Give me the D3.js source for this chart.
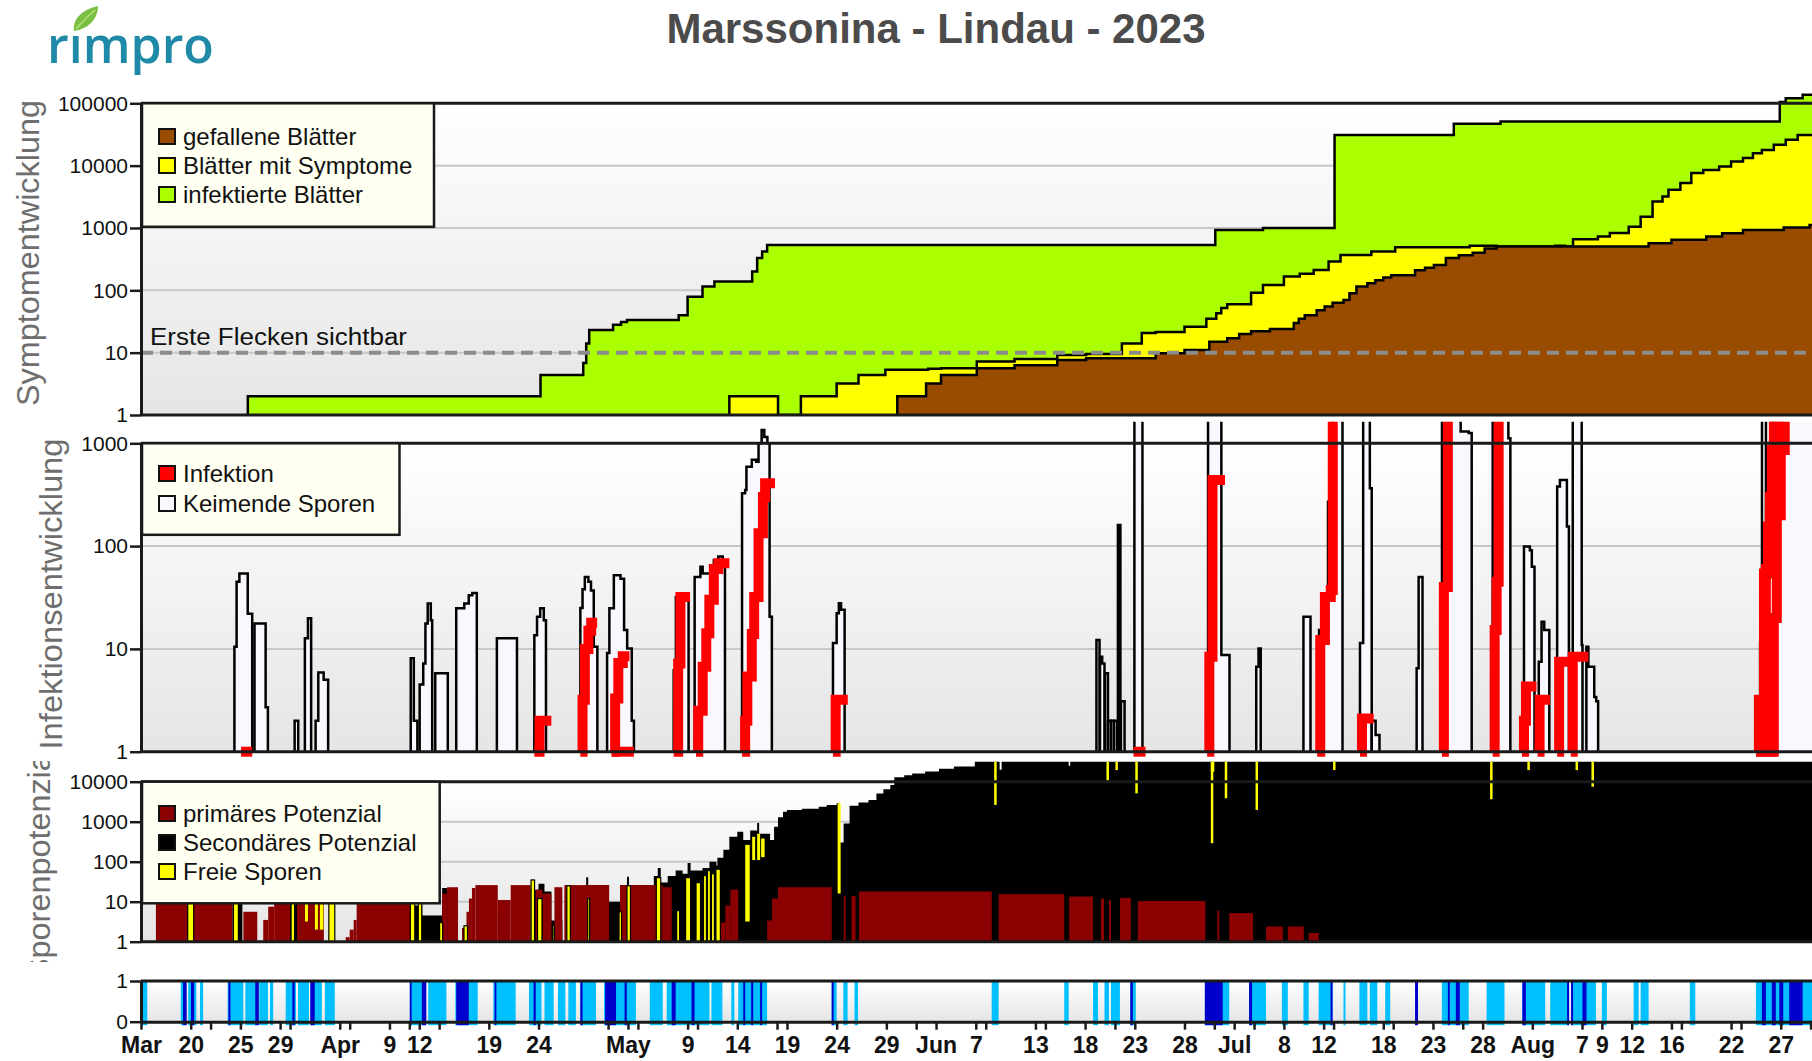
<!DOCTYPE html>
<html><head><meta charset="utf-8">
<script src="https://cdn.jsdelivr.net/npm/d3@7/dist/d3.min.js"></script>
<style>
html,body{margin:0;padding:0;background:#fff;}
svg{display:block;font-family:"Liberation Sans",Arial,Helvetica,sans-serif;}
</style></head><body>
<svg id="chart" width="1812" height="1061"></svg>
<script>
// ---------------- DATA (x = days after 15 March 2023) ----------------
const xTickDates = ["2023-03-15","2023-03-20","2023-03-25","2023-03-29","2023-04-04","2023-04-09","2023-04-12","2023-04-19","2023-04-24","2023-05-03","2023-05-09","2023-05-14","2023-05-19","2023-05-24","2023-05-29","2023-06-03","2023-06-07","2023-06-13","2023-06-18","2023-06-23","2023-06-28","2023-07-03","2023-07-08","2023-07-12","2023-07-18","2023-07-23","2023-07-28","2023-08-02","2023-08-07","2023-08-09","2023-08-12","2023-08-16","2023-08-22","2023-08-27"];
const xTickLabels = ["Mar","20","25","29","Apr","9","12","19","24","May","9","14","19","24","29","Jun","7","13","18","23","28","Jul","8","12","18","23","28","Aug","7","9","12","16","22","27"];
const xMinorTicks = ["2023-03-22","2023-03-30","2023-04-05","2023-04-11","2023-04-14","2023-05-01","2023-05-04","2023-05-10","2023-05-18","2023-06-01","2023-06-08","2023-06-14","2023-06-21","2023-07-01","2023-07-05","2023-07-13","2023-07-19","2023-07-26","2023-08-17","2023-08-23","2023-08-30"];

const symTicks = [1,10,100,1000,10000,100000];
const infTicks = [1,10,100,1000];
const spoTicks = [1,10,100,1000,10000];
const wetTicks = [0,1];

// Panel 1 : step series [day, leaves]
const infectedLeaves = [[10.75,2],[40.2,4.4],[44.5,6.8],[44.8,14],[45.1,23],[47.5,28],[48.3,31],[48.9,33.5],[54.1,40],[55.0,79],[56.5,115],[57.7,138],[61.5,200],[62.0,330],[62.5,420],[63.0,535],[108.1,930],[112.9,1000],[120.1,31000],[132.1,47000],[136.8,51000],[164.9,105000],[165.5,120000],[167.2,137000],[172,137000]];
const symptomLeaves = [[59.2,2],[64.1,1],[66.4,2],[70.0,3.2],[72.2,4.4],[74.9,5.3],[79.2,5.5],[80.5,5.6],[84.1,7.2],[87.9,7.9],[92.2,9.2],[95.1,9.5],[98.7,14],[100.7,20.7],[102.1,21.5],[105.0,26],[107.2,35],[108.2,43],[108.7,52],[109.3,60],[111.7,91],[112.9,122],[115.0,166],[116.6,185],[118.0,212],[119.5,290],[120.7,370],[123.8,418],[126.2,490],[133.7,518],[136.4,505],[142.3,520],[143.3,505],[144.1,660],[146.6,727],[147.8,830],[149.7,1050],[150.9,1520],[152.1,2660],[153.1,3200],[153.7,4100],[154.9,5250],[156.0,7600],[157.2,8500],[158.8,9700],[160.0,11700],[161.2,13200],[162.2,15800],[163.1,17900],[164.3,21600],[165.5,26000],[166.7,31000],[172,31000]];
const fallenLeaves = [[76.1,2],[79.0,3.2],[80.5,4.4],[84.1,5.6],[87.9,6.3],[92.2,7.6],[95.1,8.1],[102.1,9.8],[105.0,11],[107.5,15],[109.3,17],[110.5,20],[111.7,22],[113.6,24],[116.0,30],[116.5,35],[117.1,40],[118.3,48],[119.1,55],[119.9,63],[121.0,70],[121.6,90],[122.3,115],[123.4,130],[124.2,145],[125.0,160],[125.8,175],[128.2,210],[129.2,230],[130.1,255],[131.3,330],[132.6,365],[134.0,400],[135.2,470],[136.4,505],[151.7,570],[154.0,645],[157.5,730],[159.1,820],[161.2,930],[165.3,1020],[167.9,1120],[172,1120]];
const firstSpotsLevel = 10;

// Panel 2 : germinating spores events and infection lines [day, value]
const germinatingSpores = [
 [[9.40,10.5],[9.62,45],[9.9,54],[10.74,22],[11.19,1]],
 [[11.42,17.7],[12.54,2.7],[12.77,1]],
 [[15.46,2],[15.82,1]],
 [[16.49,12.7],[16.8,19.9],[17.12,1]],
 [[17.57,2],[17.84,5.9],[18.38,5],[18.83,1]],
 [[27.14,8.1],[27.45,2],[27.81,1]],
 [[28.04,4.5],[28.4,7.2],[28.62,17.7],[28.85,27.7],[29.16,19],[29.3,1]],
 [[29.61,5.8],[30.87,1]],
 [[31.72,24.8],[32.53,27.7],[32.98,33.3],[33.34,35],[33.79,1]],
 [[35.81,12.7],[37.83,1]],
 [[39.58,13.6],[39.85,20.6],[40.17,24.8],[40.53,19],[40.75,1]],
 [[44.21,25],[44.43,38],[44.66,50],[45.02,45],[45.28,37],[45.56,10.5],[45.92,1]],
 [[46.9,9.1],[47.13,24.8],[47.58,52],[48.25,48],[48.61,15.3],[48.92,10.1],[49.38,2],[49.6,1]],
 [[53.6,6.2],[53.82,32],[54.18,33.5],[55.1,1]],
 [[55.71,50],[56.29,63],[56.52,54],[57.64,73],[58.09,79],[58.54,73],[58.76,1]],
 [[60.48,326],[60.79,351],[60.92,590],[61.46,690],[61.9,660],[62.14,1000],[62.45,1350],[62.72,1150],[63.03,1000],[63.25,20.6],[63.48,1]],
 [[69.63,11.4],[70.0,22.2],[70.22,27.8],[70.44,24],[70.8,1]],
 [[96.14,12.2],[96.45,1]],
 [[96.5,8.4],[96.72,7.2],[96.95,1]],
 [[97.0,5.8],[97.3,1]],
 [[97.3,2],[97.6,1]],
 [[97.6,2],[97.9,1]],
 [[97.9,2],[98.2,1]],
 [[98.3,160],[98.55,1]],
 [[98.61,3.1],[98.97,1]],
 [[99.96,5000],[100.77,1]],
 [[107.37,5000],[108.71,8.7],[109.53,1]],
 [[112.22,6.7],[112.45,10.1],[112.67,1]],
 [[116.97,20.6],[117.68,1]],
 [[118.54,15.3],[119.44,270],[119.92,5000],[120.9,1]],
 [[122.66,11.4],[122.98,5000],[123.65,365],[123.84,1]],
 [[123.84,2],[124.23,1.45],[124.62,1]],
 [[128.36,6.5],[128.56,50],[128.95,1]],
 [[130.91,5000],[132.79,1300],[133.6,1260],[133.9,1]],
 [[136.01,5000],[137.59,1120],[137.79,1]],
 [[139.16,99],[139.75,91],[139.95,63],[140.22,1]],
 [[140.65,7.5],[140.93,18.4],[141.2,15.3],[141.71,1]],
 [[142.5,380],[142.78,440],[143.48,155],[143.68,1]],
 [[144.07,5000],[144.97,10.9],[145.05,1]],
 [[145.44,10.5],[145.64,6.7],[146.23,3.4],[146.43,3.1],[146.62,1]],
 [[162.92,11.4],[163.11,5000],[163.51,173],[163.9,155],[164.1,5000],[172,5000]]
];
const infection = [
 [[10.07,1],[11.19,1]],
 [[39.58,1],[40.1,2],[41.29,2]],
 [[44.21,1],[44.43,3.2],[44.66,10],[45.02,15],[45.3,18],[45.9,18]],
 [[47.36,1],[47.71,3.3],[48.03,7.3],[48.48,8.5],[49.15,8.5]],
 [[47.36,1],[49.6,1]],
 [[53.6,1],[53.95,1],[54.05,7.2],[54.28,32],[55.25,32]],
 [[55.85,1],[56.07,2.5],[56.52,6.7],[56.88,14.2],[57.19,30],[57.64,60],[58.09,68],[59.21,68]],
 [[60.48,1],[60.79,2],[61.01,5.4],[61.46,14],[61.7,32],[62.14,133],[62.58,300],[62.8,408],[63.8,408]],
 [[69.63,1],[69.9,3.2],[71.12,3.2]],
 [[99.87,1],[101.08,1]],
 [[107.28,1],[107.5,8.4],[107.82,440],[109.08,440]],
 [[118.35,1],[118.66,12.2],[119.13,32],[119.72,37.4],[119.92,5000],[120.7,5000]],
 [[122.66,1],[122.86,2.1],[124.04,2.1]],
 [[130.91,1],[131.1,40],[131.5,5000],[132.4,5000]],
 [[136.01,1],[136.21,15.3],[136.41,45],[136.61,5000],[137.4,5000]],
 [[138.96,1],[139.16,2],[139.36,4.3],[140.42,4.3]],
 [[140.53,1],[140.73,3.2],[141.79,3.2]],
 [[142.5,1],[142.7,7.5],[143.6,7.5]],
 [[143.87,1],[144.07,8.4],[145.64,8.4]],
 [[162.53,1],[162.8,3.2],[163.31,54],[163.71,155],[164.1,860],[164.69,5000],[165.6,5000]],
 [[162.53,1],[164.6,1]],
 [[163.3,1],[163.5,60],[163.9,300],[164.3,2000],[164.9,5000],[165.6,5000]],
 [[164.0,1],[164.3,20],[164.6,200],[165.0,860],[165.4,5000],[165.6,5000]]
];

// Panel 3 : spore potential
const secondaryPotential = [[0,1],[9.2,10],[10.2,1],[15.0,22],[16.1,24],[18.3,1],[27.1,8],[28.3,4.5],[30.3,22],[30.8,18],[31.9,1],[39.2,20],[40.0,28],[40.6,18],[41.3,3.4],[42.4,1],[44.7,26],[44.8,41],[45.0,26],[47.1,10],[48.2,26],[48.9,42],[49.1,26],[51.6,44],[52.0,70],[52.3,30],[53.0,44],[53.8,60],[54.5,50],[55.0,93],[55.3,60],[56.5,70],[57.2,100],[57.9,80],[58.0,126],[58.6,200],[59.2,420],[60.0,560],[60.6,350],[61.3,600],[62.0,930],[62.2,500],[63.3,350],[63.7,750],[64.1,1300],[64.6,1780],[65.0,1950],[66.5,2100],[68.2,2360],[69.0,2600],[70.0,2950],[70.2,300],[70.7,900],[71.3,2500],[72.2,3000],[73.2,3500],[74.0,5100],[74.7,6500],[75.4,8300],[75.8,13000],[76.8,14500],[77.6,16000],[78.9,18000],[80.3,21000],[81.8,24000],[83.9,40000],[86.4,20000],[86.6,40000],[93.35,25000],[93.5,40000],[172,40000]];
// [start, end, value]
const primaryPotential = [[1.5,9.2,25],[10.3,11.7,5.6],[12.3,12.8,3.5],[12.8,13.4,7.5],[13.4,15.0,20],[15.7,18.4,20],[20.6,21.0,1.3],[21.0,21.4,2],[21.4,21.7,3.5],[21.7,27.1,25],[30.3,30.8,16],[30.8,31.9,23],[32.3,32.7,2.2],[32.75,33.0,5.6],[33.0,33.3,12],[33.3,33.65,22],[33.65,35.9,26],[35.9,37.2,11],[37.2,39.2,26],[39.7,40.4,20],[40.4,41.3,16],[41.6,42.4,23],[42.6,47.1,26],[48.2,52.5,26],[52.5,53.4,23],[58.3,58.8,3],[58.8,59.3,8],[59.3,60.1,20],[63.0,63.5,3.4],[63.5,64.1,12],[64.1,69.5,23],[70.7,70.9,14],[71.5,71.9,14],[72.25,85.6,18],[86.3,92.9,15.5],[93.4,95.8,13.5],[96.6,96.9,12],[97.4,97.6,11],[98.5,99.6,12.5],[100.3,107.1,10.4],[108.3,108.5,6],[109.5,111.9,5.2],[113.2,114.9,2.4],[115.4,117.0,2.4],[117.5,118.5,1.65]];
// [start, end, top, bottom]
const freeSpores = [[4.7,5.3,20,1],[9.3,9.8,15,1],[15.1,15.45,20,1],[16.5,16.8,20,3.2],[17.5,17.8,20,2],[18.0,18.35,20,2],[18.9,19.5,20,1],[27.1,27.55,20,1],[27.9,28.25,20,1],[30.05,30.35,3,1],[32.5,32.85,2.5,1],[39.25,39.6,35,1],[39.9,40.35,12,1],[41.45,41.6,2.5,1],[42.85,43.2,25,1],[44.95,45.15,12,1],[48.1,48.35,5.6,1],[48.9,49.25,25,1],[51.85,52.3,40,1],[53.9,54.2,6,1],[54.8,55.3,40,1],[55.85,56.3,30,1],[56.6,56.9,45,1],[57.0,57.3,60,1],[57.4,57.7,50,1],[57.85,58.3,65,1],[60.8,61.25,263,3.2],[61.5,61.8,420,110],[62.0,62.3,500,110],[62.4,62.75,380,130],[70.1,70.4,2900,16],[85.85,86.1,40000,2630],[97.15,97.4,40000,10500],[98.05,98.3,40000,19500],[100.05,100.3,40000,5100],[107.65,107.9,40000,290],[107.65,108.0,40000,17800],[109.05,109.3,40000,3850],[112.15,112.4,40000,1970],[119.95,120.2,40000,19500],[135.75,136.0,40000,3640],[139.5,139.75,40000,19500],[144.35,144.6,40000,19500],[145.95,146.2,40000,7500]];

// Panel 4 : wetness [start, end]
const wetLight = [[0.1,0.63],[4.0,4.5],[4.75,5.57],[5.94,6.25],[8.72,10.3],[10.5,11.6],[11.9,12.77],[12.98,13.3],[14.56,15.6],[15.8,16.9],[17.1,18.2],[18.5,19.5],[27.05,28.6],[28.9,30.73],[31.63,33.88],[35.45,37.7],[39.04,40.3],[40.6,41.52],[41.96,42.7],[43.0,43.76],[44.21,45.78],[46.6,49.8],[51.2,52.5],[52.9,57.2],[57.4,58.5],[59.4,59.7],[60.1,63.0],[69.5,70.0],[70.67,71.1],[71.8,72.15],[85.6,86.3],[92.9,93.35],[95.8,96.3],[96.95,97.4],[97.6,98.5],[99.55,100.1],[107.05,109.5],[111.5,113.2],[114.8,115.4],[116.97,117.5],[118.5,119.9],[121.0,121.2],[122.6,123.4],[123.65,124.4],[125.2,125.7],[130.9,133.6],[135.4,137.2],[139.0,141.3],[141.8,143.7],[143.9,146.4],[147.0,147.5],[150.2,150.7],[150.9,151.7],[155.85,156.4],[162.5,172]];
const wetDark = [[4.23,4.6],[5.03,5.35],[8.8,9.0],[11.5,11.86],[15.23,15.46],[17.03,17.48],[27.05,27.23],[28.26,28.71],[31.72,32.98],[35.58,35.76],[39.5,39.72],[44.21,44.43],[46.7,47.8],[48.66,48.88],[53.4,53.8],[55.4,55.7],[60.6,60.8],[61.4,61.6],[62.3,62.5],[69.5,69.7],[99.55,99.8],[107.05,108.85],[111.5,111.8],[119.7,119.9],[128.2,128.5],[131.5,131.7],[132.3,132.7],[139.0,139.35],[143.5,143.7],[143.9,144.1],[145.05,145.45],[163.1,163.5],[164.1,164.5],[164.85,165.25],[165.85,167.2]];

// ---------------- CHART ----------------
const W=1812, H=1061, X0=141, PXDAY=9.938, DAYS=172;
const FONT='"Liberation Sans",Arial,Helvetica,sans-serif';
const svg=d3.select("#chart");
const defs=svg.append("defs");
const grad=defs.append("linearGradient").attr("id","bg").attr("x1",0).attr("y1",0).attr("x2",0).attr("y2",1);
grad.append("stop").attr("offset","0%").attr("stop-color","#ffffff");
grad.append("stop").attr("offset","100%").attr("stop-color","#e5e5e5");

const t0=Date.UTC(2023,2,15);
const D=d=>new Date(t0+d*864e5);
const x=d3.scaleUtc().domain([D(0),D(DAYS)]).range([X0,X0+DAYS*PXDAY]);
const xd=d=>x(D(d));
const parse=d3.utcParse("%Y-%m-%d");

const ySym=d3.scaleLog().domain([1,1e5]).range([415,103.3]);
const yInf=d3.scaleLog().domain([1,1e3]).range([751.7,443.3]);
const ySpo=d3.scaleLog().domain([1,1e4]).range([941.7,781.7]);
const yWet=d3.scaleLinear().domain([0,1]).range([1021.7,981]);

function clip(id,y0,y1){
  defs.append("clipPath").attr("id",id).append("rect").attr("x",X0).attr("y",y0).attr("width",W-X0).attr("height",y1-y0);
  return `url(#${id})`;
}
function background(top,bottom,gridVals,y){
  svg.append("rect").attr("x",X0).attr("y",top).attr("width",W-X0).attr("height",bottom-top).attr("fill","url(#bg)");
  svg.append("g").selectAll("line").data(gridVals).join("line")
    .attr("x1",X0).attr("x2",W).attr("y1",d=>y(d)).attr("y2",d=>y(d))
    .attr("stroke","#c8c8c8").attr("stroke-width",2);
}
function hline(yv){
  svg.append("line").attr("x1",X0).attr("x2",W).attr("y1",yv).attr("y2",yv).attr("stroke","#1a1a1a").attr("stroke-width",3);
}
function leftAxis(y,ticks){
  const g=svg.append("g").attr("transform",`translate(${X0},0)`)
    .call(d3.axisLeft(y).tickValues(ticks).tickFormat(d3.format("d")).tickSize(11).tickSizeOuter(0).tickPadding(2));
  g.attr("font-family",FONT).attr("font-size",21);
  g.select(".domain").attr("stroke","#1a1a1a").attr("stroke-width",3);
  g.selectAll(".tick line").attr("stroke","#1a1a1a").attr("stroke-width",2.5);
  g.selectAll(".tick text").attr("fill","#111");
}
function stepSeries(g,data,y,fill){
  g.append("path").attr("d",d3.area().x(d=>xd(d[0])).y0(y(1)).y1(d=>y(d[1])).curve(d3.curveStepAfter)(data))
    .attr("fill",fill);
  g.append("path").attr("d",d3.line().x(d=>xd(d[0])).y(d=>y(d[1])).curve(d3.curveStepAfter)([[data[0][0],1],...data]))
    .attr("fill","none").attr("stroke","#000").attr("stroke-width",2.5).attr("stroke-linejoin","miter");
}
function legend(x0,y0,w,h,items){
  const g=svg.append("g");
  g.append("rect").attr("x",x0).attr("y",y0).attr("width",w).attr("height",h)
    .attr("fill","#fffff2").attr("stroke","#1a1a1a").attr("stroke-width",2.5);
  items.forEach(it=>{
    g.append("rect").attr("x",159).attr("y",it[2]-16).attr("width",16).attr("height",15)
      .attr("fill",it[1]).attr("stroke","#111").attr("stroke-width",2);
    g.append("text").attr("x",183).attr("y",it[2]).attr("font-size",24).attr("fill","#111").text(it[0]);
  });
}
function yTitle(txt,bx,cy,len,clipRect){
  const holder=svg.append("g");
  if(clipRect){
    defs.append("clipPath").attr("id","ct").append("rect")
      .attr("x",clipRect[0]).attr("y",clipRect[1]).attr("width",clipRect[2]).attr("height",clipRect[3]);
    holder.attr("clip-path","url(#ct)");
  }
  holder.append("text").attr("transform",`translate(${bx},${cy}) rotate(-90)`)
    .attr("text-anchor","middle").attr("font-size",31).attr("fill","#6e6e6e")
    .attr("textLength",len).attr("lengthAdjust","spacingAndGlyphs").text(txt);
}

// ---- header ----
svg.append("text").attr("x",936).attr("y",43).attr("text-anchor","middle")
  .attr("font-size",42).attr("font-weight","bold").attr("fill","#4b4b4b").text("Marssonina - Lindau - 2023");
svg.append("text").attr("x",47).attr("y",63).attr("font-family","'Open Sans',Lato,sans-serif")
  .attr("font-weight",600).attr("font-size",50).attr("fill","#1f89a8")
  .attr("textLength",167).attr("lengthAdjust","spacingAndGlyphs").text("rımpro");
svg.append("path").attr("d","M74,31 C72,19 83,9 98,6 C98,19 88,29 74,31 Z").attr("fill","#7cc043");
svg.append("path").attr("d","M76,29 C82,22 88,16 95,10").attr("stroke","#b7e07f").attr("stroke-width",1.5).attr("fill","none");

// ---- Panel 1 ----
background(ySym(1e5),ySym(1),[10,100,1000,10000],ySym);
const g1=svg.append("g").attr("clip-path",clip("c1",92,415));
stepSeries(g1,infectedLeaves,ySym,"#aaff00");
stepSeries(g1,symptomLeaves,ySym,"#ffff00");
stepSeries(g1,fallenLeaves,ySym,"#994c00");
g1.append("line").attr("x1",X0).attr("x2",W).attr("y1",ySym(firstSpotsLevel)).attr("y2",ySym(firstSpotsLevel))
  .attr("stroke","#8c8c8c").attr("stroke-width",4).attr("stroke-dasharray","12,7");
svg.append("text").attr("x",150).attr("y",345).attr("font-size",23).attr("fill","#111")
  .attr("textLength",257).attr("lengthAdjust","spacingAndGlyphs").text("Erste Flecken sichtbar");
hline(ySym(1e5)); hline(ySym(1));
leftAxis(ySym,symTicks);
legend(142,103.3,292,123.5,[["gefallene Blätter","#994c00",145],["Blätter mit Symptome","#ffff00",174],["infektierte Blätter","#aaff00",203]]);
yTitle("Symptomentwicklung",39,253,306);

// ---- Panel 2 ----
background(yInf(1000),yInf(1),[10,100],yInf);
const g2=svg.append("g").attr("clip-path",clip("c2",421.7,760));
germinatingSpores.forEach(ev=>stepSeries(g2,ev,yInf,"#f8f8fe"));
infection.forEach(ev=>{
  g2.append("path").attr("d",d3.line().x(d=>xd(d[0])).y(d=>yInf(d[1])).curve(d3.curveStepAfter)(ev))
    .attr("fill","none").attr("stroke","#ff0000").attr("stroke-width",10).attr("stroke-linejoin","miter");
});
hline(yInf(1000)); hline(yInf(1));
leftAxis(yInf,infTicks);
legend(142,443.3,257.5,91.5,[["Infektion","#ff0000",482],["Keimende Sporen","#f8f8ff",512]]);
yTitle("Infektionsentwicklung",62,594,311);

// ---- Panel 3 ----
background(ySpo(1e4),ySpo(1),[10,100,1000],ySpo);
const g3=svg.append("g").attr("clip-path",clip("c3",761.7,941.7));
g3.append("path").attr("d",d3.area().x(d=>xd(d[0])).y0(ySpo(1)).y1(d=>ySpo(d[1])).curve(d3.curveStepAfter)(secondaryPotential))
  .attr("fill","#000");
g3.selectAll("rect.p").data(primaryPotential).join("rect").attr("class","p")
  .attr("x",d=>xd(d[0])).attr("width",d=>xd(d[1])-xd(d[0]))
  .attr("y",d=>ySpo(d[2])).attr("height",d=>ySpo(1)-ySpo(d[2])).attr("fill","#8b0000");
g3.selectAll("rect.f").data(freeSpores).join("rect").attr("class","f")
  .attr("x",d=>xd(d[0])).attr("width",d=>xd(d[1])-xd(d[0]))
  .attr("y",d=>ySpo(d[2])).attr("height",d=>ySpo(d[3])-ySpo(d[2])).attr("fill","#ffff00")
  .attr("stroke",d=>d[3]<2?"#000":"none").attr("stroke-width",1.2);
hline(ySpo(1e4)); hline(ySpo(1));
leftAxis(ySpo,spoTicks);
legend(142,781.7,297.7,121.6,[["primäres Potenzial","#8b0000",822],["Secondäres Potenzial","#000000",851],["Freie Sporen","#ffff00",880]]);
yTitle("Sporenpotenzial",50,863,234,[0,761,X0,201]);

// ---- Panel 4 ----
background(yWet(1),yWet(0),[],yWet);
const g4=svg.append("g").attr("clip-path",clip("c4",981,1026));
g4.selectAll("rect.l").data(wetLight).join("rect").attr("class","l")
  .attr("x",d=>xd(d[0])).attr("width",d=>xd(d[1])-xd(d[0]))
  .attr("y",yWet(1)).attr("height",yWet(0)-yWet(1)+3.5).attr("fill","#00c0ff");
g4.selectAll("rect.d").data(wetDark).join("rect").attr("class","d")
  .attr("x",d=>xd(d[0])).attr("width",d=>xd(d[1])-xd(d[0]))
  .attr("y",yWet(1)).attr("height",yWet(0)-yWet(1)+3.5).attr("fill","#0000cc");
hline(yWet(1));
leftAxis(yWet,wetTicks);

// ---- X axis ----
const gx=svg.append("g").attr("transform",`translate(0,${yWet(0)})`)
  .call(d3.axisBottom(x).tickValues(xTickDates.map(parse)).tickFormat((d,i)=>xTickLabels[i]).tickSize(8).tickSizeOuter(0).tickPadding(7));
gx.attr("font-family",FONT).attr("font-size",23).attr("font-weight","bold");
gx.select(".domain").attr("stroke","#1a1a1a").attr("stroke-width",3);
gx.selectAll(".tick line").attr("stroke","#1a1a1a").attr("stroke-width",2.5);
gx.selectAll(".tick text").attr("fill","#111");
const gm=svg.append("g").attr("transform",`translate(0,${yWet(0)})`)
  .call(d3.axisBottom(x).tickValues(xMinorTicks.map(parse)).tickFormat("").tickSize(8).tickSizeOuter(0));
gm.select(".domain").remove();
gm.selectAll(".tick line").attr("stroke","#1a1a1a").attr("stroke-width",2.5);
</script></body></html>
